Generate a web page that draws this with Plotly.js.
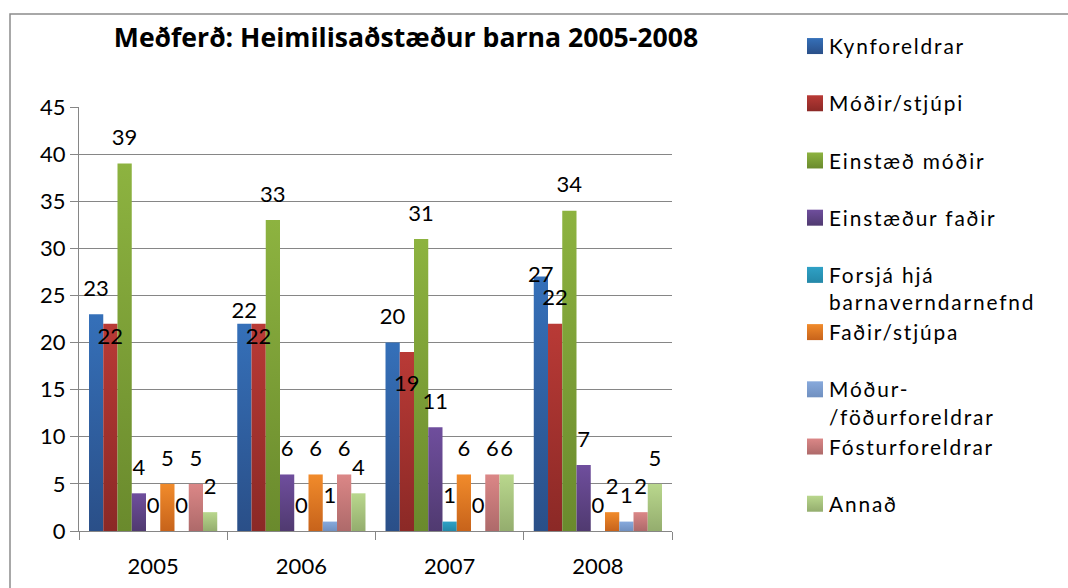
<!DOCTYPE html>
<html>
<head>
<meta charset="utf-8">
<script src="https://cdn.plot.ly/plotly-3.0.1.min.js"></script>
<style>
  html, body { margin: 0; padding: 0; background: #ffffff; }
  #chart { width: 1068px; height: 588px; }
  #chart .legendtext { letter-spacing: 1.85px; }
</style>
</head>
<body>
<div id="chart"></div>
<script>
// ---- data ----
const years = ['2005', '2006', '2007', '2008'];
const seriesNames = [
  'Kynforeldrar',
  'Móðir/stjúpi',
  'Einstæð móðir',
  'Einstæður faðir',
  'Forsjá hjá<br>barnaverndarnefnd',
  'Faðir/stjúpa',
  'Móður-<br>/föðurforeldrar',
  'Fósturforeldrar',
  'Annað'
];
const kynforeldrar        = [23, 22, 20, 27];
const modirStjupi         = [22, 22, 19, 22];
const einstaedModir       = [39, 33, 31, 34];
const einstaedurFadir     = [4, 6, 11, 7];
const forsjaBarnavernd    = [0, 0, 1, 0];
const fadirStjupa         = [5, 6, 6, 2];
const modurFodurforeldrar = [0, 1, 0, 1];
const fosturforeldrar     = [5, 6, 6, 2];
const annad               = [2, 4, 6, 5];
const seriesValues = [kynforeldrar, modirStjupi, einstaedModir, einstaedurFadir,
  forsjaBarnavernd, fadirStjupa, modurFodurforeldrar, fosturforeldrar, annad];

// ---- styles ----
const colTop    = ['#3570b9', '#b93a36', '#8db340', '#6f4e9d', '#2fa1c6', '#f18b2b', '#87a9dc', '#db8787', '#b9d78d'];
const colBottom = ['#2a4f88', '#8b2926', '#6a8a2d', '#503a70', '#2488a8', '#c7631b', '#7090c0', '#ae6a6a', '#94ad6e'];
const colMid    = ['#2f5fa0', '#a2322e', '#7b9e36', '#5f4486', '#2a95b7', '#dc7723', '#7b9dce', '#c57878', '#a7c27e'];
// label placement per series/year: t = above bar, m = at bar top, b = below bar top
const labelPlace = [
  ['t', 't', 't', 'm'],
  ['b', 'b', 'b', 't'],
  ['t', 't', 't', 't'],
  ['t', 't', 't', 't'],
  ['t', 't', 't', 't'],
  ['t', 't', 't', 't'],
  ['t', 't', 't', 't'],
  ['t', 't', 't', 't'],
  ['t', 't', 't', 't']
];
// spacing between bar top and its label (invisible marker size, px)
const labelGap = [
  [19, 0, 19, 19],
  [4, 5, 34, 19],
  [19, 19, 19, 19],
  [19, 19, 19, 19],
  [19, 19, 19, 19],
  [19, 19, 19, 19],
  [19, 19, 19, 19],
  [19, 19, 19, 19],
  [19, 19, 19, 19]
];
const placeMap = { t: 'top center', m: 'middle center', b: 'bottom center' };

const FONT = 'Lato, "Open Sans", sans-serif';
const TITLE_FONT = '"Open Sans", Lato, sans-serif';
const GAP = 0.135;

const traces = [];
seriesValues.forEach((vals, i) => {
  const oneLine = seriesNames[i].indexOf('<br>') === -1;
  traces.push({
    type: 'bar',
    name: oneLine ? seriesNames[i] + '<br> ' : seriesNames[i],
    x: years,
    y: vals,
    marker: { color: colMid[i], line: { width: 0 } },
    hoverinfo: 'skip'
  });
});
seriesValues.forEach((vals, i) => {
  traces.push({
    type: 'scatter',
    mode: 'markers+text',
    orientation: 'v',
    x: years,
    y: vals,
    text: vals.map(String),
    textposition: labelPlace[i].map(p => placeMap[p]),
    textfont: { family: FONT, size: 22, color: '#000000' },
    marker: { size: labelGap[i], color: 'rgba(0,0,0,0)', line: { width: 0, color: 'rgba(0,0,0,0)' } },
    cliponaxis: false,
    showlegend: false,
    hoverinfo: 'skip'
  });
});

// plot area: x 79..672, y 107..531
const PX0 = 79, PX1 = 672, PY0 = 107, PY1 = 531;
const px = v => (v - PX0) / (PX1 - PX0);
const py = v => (PY1 - v) / (PY1 - PY0);

const layout = {
  width: 1068,
  height: 588,
  margin: { l: PX0, r: 1068 - PX1, t: PY0, b: 588 - PY1, pad: 0 },
  paper_bgcolor: '#ffffff',
  plot_bgcolor: '#ffffff',
  barmode: 'group',
  bargap: GAP,
  bargroupgap: 0,
  scattermode: 'group',
  scattergap: GAP,
  font: { family: FONT, size: 22, color: '#000000' },
  title: {
    text: 'Meðferð: Heimilisaðstæður barna 2005-2008',
    font: { family: TITLE_FONT, size: 26.6, weight: 'bold', color: '#000000' },
    xref: 'paper', x: px(406), xanchor: 'center',
    yref: 'container', y: 1 - 38 / 588, yanchor: 'middle'
  },
  xaxis: {
    type: 'category',
    tickson: 'boundaries',
    ticks: 'outside', ticklen: 8, tickwidth: 1, tickcolor: '#868686',
    showline: true, linecolor: '#868686', linewidth: 1,
    showgrid: false, zeroline: false,
    tickfont: { family: FONT, size: 22, color: '#000000' },
    ticklabelstandoff: 16,
    fixedrange: true
  },
  yaxis: {
    range: [0, 45],
    dtick: 5, tick0: 0,
    ticks: 'outside', ticklen: 8, tickwidth: 1, tickcolor: '#868686',
    showline: true, linecolor: '#868686', linewidth: 1,
    showgrid: true, gridcolor: '#868686', gridwidth: 1,
    zeroline: false,
    tickfont: { family: FONT, size: 22, color: '#000000' },
    ticklabelstandoff: 12.5,
    fixedrange: true
  },
  legend: {
    x: px(789), xanchor: 'left',
    y: py(26), yanchor: 'top',
    valign: 'top',
    traceorder: 'normal',
    maxheight: 600,
    font: { family: FONT, size: 20.85, color: '#000000' },
    bgcolor: 'rgba(0,0,0,0)',
    borderwidth: 0,
    itemwidth: 30,
    itemclick: false, itemdoubleclick: false
  },
  shapes: [{
    type: 'rect', xref: 'paper', yref: 'paper', layer: 'below',
    x0: px(10), x1: px(1075), y0: py(600), y1: py(14),
    line: { color: '#8c8c8c', width: 1.5 },
    fillcolor: 'rgba(0,0,0,0)'
  }],
  showlegend: true,
  hovermode: false
};

Plotly.newPlot('chart', traces, layout, { displayModeBar: false, staticPlot: true }).then(gd => {
  const NS = 'http://www.w3.org/2000/svg';
  const svg = gd.querySelector('svg.main-svg');
  let defs = svg.querySelector('defs');
  if (!defs) { defs = document.createElementNS(NS, 'defs'); svg.insertBefore(defs, svg.firstChild); }
  colTop.forEach((c, i) => {
    const g = document.createElementNS(NS, 'linearGradient');
    g.setAttribute('id', 'barGrad' + i);
    g.setAttribute('x1', '0'); g.setAttribute('y1', '0');
    g.setAttribute('x2', '0'); g.setAttribute('y2', '1');
    const s1 = document.createElementNS(NS, 'stop');
    s1.setAttribute('offset', '0'); s1.setAttribute('stop-color', c);
    const s2 = document.createElementNS(NS, 'stop');
    s2.setAttribute('offset', '1'); s2.setAttribute('stop-color', colBottom[i]);
    g.appendChild(s1); g.appendChild(s2);
    defs.appendChild(g);
  });
  gd.querySelectorAll('.barlayer .trace').forEach((t, i) => {
    t.querySelectorAll('.point path').forEach(p => { p.style.fill = 'url(#barGrad' + i + ')'; });
  });
  gd.querySelectorAll('.legend .traces').forEach((t, i) => {
    t.querySelectorAll('.legendpoints path').forEach(p => {
      p.style.fill = 'url(#barGrad' + i + ')';
      p.setAttribute('d', 'M8,8H-8V-8H8Z');
      const tr = p.getAttribute('transform') || '';
      p.setAttribute('transform', tr + ' translate(6,0)');
    });
  });
  gd.querySelectorAll('.legend .scrollbox').forEach(sb => sb.removeAttribute('clip-path'));
});
</script>
</body>
</html>
